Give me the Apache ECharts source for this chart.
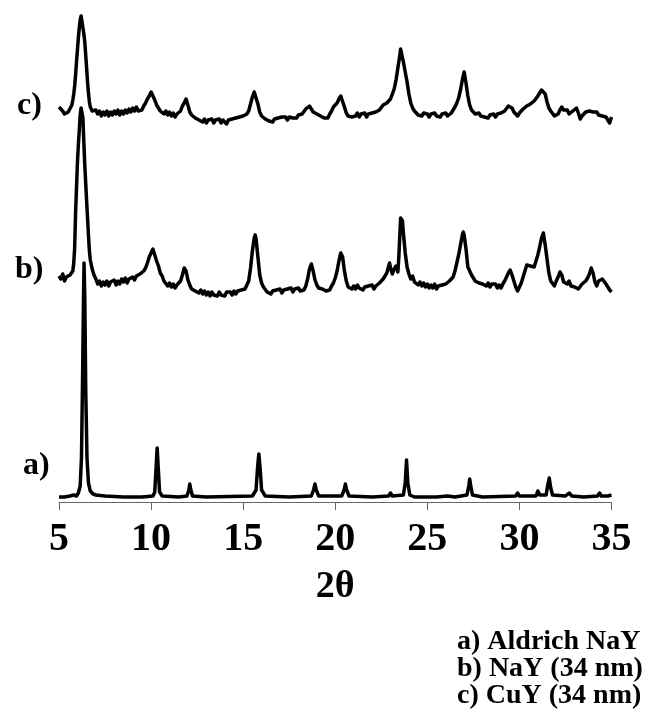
<!DOCTYPE html>
<html>
<head>
<meta charset="utf-8">
<script src="https://cdn.jsdelivr.net/npm/echarts@6/dist/echarts.min.js"></script>
<style>
  html, body { margin: 0; padding: 0; background: #fff; }
  #main { width: 659px; height: 709px; }
</style>
</head>
<body>
<div id="main"></div>
<script>
// x ticks (2theta)
var xTicks = [5, 10, 15, 20, 25, 30, 35];

// a) Aldrich NaY  [2theta, intensity]
var traceA = [
  [5.0,1],[5.3,1],[5.6,2],[5.8,3],[5.95,2],[6.05,5],[6.15,12],[6.22,40],[6.28,120],[6.33,200],
  [6.36,235],[6.40,200],[6.45,110],[6.52,40],[6.6,15],[6.7,7],[6.85,4],[7.0,3],[7.5,2],[8.5,1],
  [9.5,1],[10.1,2],[10.2,6],[10.27,30],[10.33,50],[10.39,30],[10.46,6],[10.6,2],[11.5,1],[11.95,2],
  [12.05,8],[12.1,14],[12.16,8],[12.25,2],[13,1],[15.5,2],[15.7,8],[15.78,30],[15.85,44],[15.92,30],
  [16.0,8],[16.2,2],[17.5,1],[18.7,2],[18.82,8],[18.9,14],[18.97,8],[19.1,2],[20.35,2],[20.48,8],
  [20.55,14],[20.62,8],[20.75,2],[22.0,1],[22.9,2],[23.0,5],[23.1,2],[23.7,3],[23.8,15],[23.87,38],
  [23.94,15],[24.05,3],[24.3,1],[25.5,1],[26.1,2],[26.5,1],[27.15,3],[27.25,12],[27.3,19],[27.36,12],
  [27.45,3],[28,1],[29.8,2],[29.9,5],[30.0,2],[30.9,2],[31.0,7],[31.1,3],[31.45,3],[31.55,14],
  [31.62,20],[31.7,10],[31.8,3],[32.5,2],[32.7,5],[32.85,2],[33.5,1],[34.25,2],[34.35,5],[34.45,2],
  [34.8,2],[35.0,3]
];

// b) NaY (34 nm)
var traceB = [
  [5.0,17],[5.1,14],[5.2,19],[5.3,12],[5.4,16],[5.5,15],[5.6,18],[5.7,17],[5.75,22],[5.8,30],
  [5.85,45],[5.9,80],[5.95,105],[6.0,130],[6.05,148],[6.1,162],[6.15,178],[6.2,185],[6.25,186],[6.3,175],
  [6.35,150],[6.4,128],[6.45,110],[6.5,92],[6.55,75],[6.6,58],[6.65,42],[6.7,33],[6.8,24],[6.9,18],
  [7.0,14],[7.1,9],[7.2,12],[7.3,7],[7.4,11],[7.5,8],[7.6,12],[7.7,7],[7.8,11],[7.9,9],
  [8.0,13],[8.1,8],[8.2,12],[8.3,9],[8.4,14],[8.5,11],[8.6,15],[8.7,10],[8.8,14],[8.9,12],
  [9.0,16],[9.1,13],[9.2,17],[9.3,15],[9.4,19],[9.5,18],[9.6,22],[9.7,25],[9.8,30],[9.9,36],
  [10.0,40],[10.1,44],[10.2,38],[10.3,32],[10.4,27],[10.5,20],[10.6,17],[10.7,12],[10.8,10],[10.9,7],
  [11.0,10],[11.1,6],[11.2,9],[11.3,5],[11.4,8],[11.5,6],[11.6,12],[11.7,18],[11.8,25],[11.9,22],
  [12.0,13],[12.1,8],[12.2,4],[12.3,6],[12.4,2],[12.5,4],[12.6,0],[12.7,3],[12.8,-1],[12.9,2],
  [13.0,-2],[13.1,1],[13.2,-3],[13.3,1],[13.4,-2],[13.5,0],[13.6,-3],[13.7,1],[13.8,-2],[13.9,0],
  [14.0,-3],[14.1,1],[14.2,-1],[14.3,1],[14.4,-2],[14.5,2],[14.6,-1],[14.7,2],[14.8,0],[14.9,3],
  [15.0,1],[15.1,4],[15.2,6],[15.3,12],[15.4,25],[15.5,42],[15.6,55],[15.65,58],[15.7,54],[15.8,36],
  [15.9,18],[16.0,10],[16.1,6],[16.2,4],[16.3,1],[16.4,3],[16.5,-1],[16.6,2],[16.7,0],[16.8,3],
  [16.9,1],[17.0,4],[17.1,0],[17.2,3],[17.3,1],[17.4,4],[17.5,2],[17.6,5],[17.7,1],[17.8,4],
  [17.9,2],[18.0,5],[18.1,2],[18.2,4],[18.3,3],[18.4,7],[18.5,14],[18.6,24],[18.7,29],[18.8,22],
  [18.9,13],[19.0,8],[19.1,5],[19.2,7],[19.3,4],[19.4,6],[19.5,2],[19.6,4],[19.7,3],[19.8,7],
  [19.9,10],[20.0,15],[20.1,22],[20.2,32],[20.3,40],[20.4,36],[20.5,22],[20.6,12],[20.7,6],[20.8,8],
  [20.9,4],[21.0,7],[21.1,4],[21.2,8],[21.3,5],[21.4,7],[21.5,3],[21.6,6],[21.7,4],[21.8,7],
  [21.9,5],[22.0,8],[22.1,4],[22.2,7],[22.3,6],[22.4,10],[22.5,9],[22.6,14],[22.7,17],[22.8,20],
  [22.9,27],[22.95,30],[23.0,25],[23.1,19],[23.2,24],[23.3,27],[23.4,21],[23.45,35],[23.5,55],[23.55,75],
  [23.6,77],[23.65,72],[23.7,60],[23.8,40],[23.9,26],[24.0,19],[24.1,14],[24.2,17],[24.3,11],[24.4,13],
  [24.5,8],[24.6,11],[24.7,7],[24.8,10],[24.9,6],[25.0,9],[25.1,5],[25.2,8],[25.3,5],[25.4,9],
  [25.5,4],[25.6,7],[25.7,5],[25.8,8],[25.9,6],[26.0,9],[26.1,8],[26.2,12],[26.3,11],[26.4,16],
  [26.5,22],[26.6,30],[26.7,38],[26.8,48],[26.9,58],[26.95,61],[27.0,58],[27.1,44],[27.2,26],[27.3,22],
  [27.4,18],[27.5,15],[27.6,12],[27.7,14],[27.8,10],[27.9,12],[28.0,9],[28.1,11],[28.2,7],[28.3,10],
  [28.4,6],[28.5,9],[28.6,7],[28.7,9],[28.8,5],[28.9,8],[29.0,5],[29.1,9],[29.2,12],[29.3,16],
  [29.4,20],[29.5,23],[29.6,18],[29.7,12],[29.8,6],[29.9,2],[30.0,6],[30.1,10],[30.2,16],[30.3,22],
  [30.4,28],[30.5,30],[30.6,27],[30.7,29],[30.8,26],[30.9,32],[31.0,38],[31.1,46],[31.2,55],[31.3,60],
  [31.35,58],[31.4,48],[31.5,34],[31.6,20],[31.7,12],[31.8,10],[31.9,7],[32.0,12],[32.1,16],[32.2,21],
  [32.3,18],[32.4,11],[32.5,13],[32.6,9],[32.7,12],[32.8,7],[32.9,9],[33.0,6],[33.1,8],[33.2,4],
  [33.3,5],[33.4,9],[33.5,8],[33.6,12],[33.7,15],[33.8,19],[33.9,25],[34.0,20],[34.1,11],[34.2,7],
  [34.3,12],[34.4,10],[34.5,14],[34.6,12],[34.7,9],[34.8,6],[34.9,3],[35.0,1]
];

// c) CuY (34 nm)
var traceC = [
  [5.0,13],[5.1,11],[5.2,9],[5.3,6],[5.4,4],[5.5,8],[5.6,10],[5.7,15],[5.75,20],[5.8,26],
  [5.85,34],[5.9,45],[5.95,58],[6.0,70],[6.05,82],[6.1,92],[6.15,100],[6.2,104],[6.25,98],[6.3,92],
  [6.35,86],[6.4,78],[6.45,65],[6.5,52],[6.55,38],[6.6,27],[6.65,18],[6.7,13],[6.8,9],[6.9,7],
  [7.0,10],[7.1,6],[7.2,9],[7.3,4],[7.4,8],[7.5,5],[7.6,9],[7.7,4],[7.8,8],[7.9,5],
  [8.0,9],[8.1,6],[8.2,10],[8.3,5],[8.4,9],[8.5,6],[8.6,10],[8.7,7],[8.8,11],[8.9,8],
  [9.0,12],[9.1,9],[9.2,13],[9.3,9],[9.4,11],[9.5,10],[9.6,14],[9.7,17],[9.8,21],[9.9,24],
  [10.0,28],[10.1,26],[10.2,20],[10.3,15],[10.4,12],[10.5,9],[10.6,11],[10.7,6],[10.8,9],[10.9,5],
  [11.0,8],[11.1,4],[11.2,7],[11.3,3],[11.4,6],[11.5,4],[11.6,9],[11.7,14],[11.8,17],[11.9,21],
  [12.0,15],[12.1,8],[12.2,5],[12.3,6],[12.4,2],[12.5,4],[12.6,0],[12.7,2],[12.8,-2],[12.9,1],
  [13.0,-3],[13.1,0],[13.2,-2],[13.3,1],[13.4,-3],[13.5,0],[13.6,-2],[13.7,1],[13.8,-3],[13.9,0],
  [14.0,-2],[14.1,-4],[14.2,0],[14.3,-2],[14.4,1],[14.5,-1],[14.6,2],[14.7,0],[14.8,3],[14.9,1],
  [15.0,4],[15.1,3],[15.2,6],[15.3,9],[15.4,16],[15.5,23],[15.6,28],[15.65,29],[15.7,26],[15.8,16],
  [15.9,8],[16.0,4],[16.1,3],[16.2,1],[16.3,2],[16.4,-1],[16.5,1],[16.6,-2],[16.7,1],[16.8,-1],
  [16.9,2],[17.0,0],[17.1,3],[17.2,1],[17.3,3],[17.4,0],[17.5,3],[17.6,1],[17.7,2],[17.8,4],
  [17.9,2],[18.0,5],[18.1,3],[18.2,6],[18.3,8],[18.4,11],[18.5,10],[18.6,14],[18.7,11],[18.8,8],
  [18.9,9],[19.0,6],[19.1,7],[19.2,4],[19.3,5],[19.4,2],[19.5,4],[19.6,2],[19.7,6],[19.8,9],
  [19.9,13],[20.0,15],[20.1,17],[20.2,21],[20.3,24],[20.35,25],[20.4,22],[20.5,13],[20.6,7],[20.7,4],
  [20.8,5],[20.9,3],[21.0,5],[21.1,4],[21.2,7],[21.3,3],[21.4,6],[21.5,4],[21.6,7],[21.7,3],
  [21.8,6],[21.9,4],[22.0,7],[22.1,5],[22.2,8],[22.3,7],[22.4,10],[22.5,12],[22.6,15],[22.7,14],
  [22.8,17],[22.9,19],[23.0,21],[23.1,26],[23.2,31],[23.3,40],[23.4,52],[23.5,64],[23.55,71],[23.6,70],
  [23.7,58],[23.8,48],[23.9,38],[24.0,26],[24.1,17],[24.2,12],[24.3,9],[24.4,7],[24.5,5],[24.6,7],
  [24.7,4],[24.8,7],[24.9,5],[25.0,6],[25.1,3],[25.2,6],[25.3,4],[25.4,7],[25.5,4],[25.6,6],
  [25.7,3],[25.8,6],[25.9,5],[26.0,7],[26.1,4],[26.2,6],[26.3,7],[26.4,10],[26.5,13],[26.6,17],
  [26.7,22],[26.8,30],[26.9,40],[27.0,48],[27.05,46],[27.1,37],[27.2,24],[27.3,15],[27.4,10],[27.5,8],
  [27.6,6],[27.7,5],[27.8,7],[27.9,4],[28.0,6],[28.1,3],[28.2,5],[28.3,2],[28.4,5],[28.5,4],
  [28.6,6],[28.7,3],[28.8,6],[28.9,5],[29.0,7],[29.1,6],[29.2,9],[29.3,11],[29.4,14],[29.5,15],
  [29.6,12],[29.7,8],[29.8,6],[29.9,4],[30.0,7],[30.1,9],[30.2,11],[30.3,12],[30.4,14],[30.5,13],
  [30.6,16],[30.7,18],[30.8,19],[30.9,21],[31.0,24],[31.1,27],[31.2,30],[31.3,31],[31.4,26],[31.5,18],
  [31.6,12],[31.7,9],[31.8,7],[31.9,4],[32.0,3],[32.1,6],[32.2,10],[32.3,13],[32.4,10],[32.5,8],
  [32.6,10],[32.7,6],[32.8,7],[32.9,9],[33.0,10],[33.1,12],[33.2,7],[33.3,1],[33.4,4],[33.5,6],
  [33.6,8],[33.7,10],[33.8,9],[33.9,7],[34.0,8],[34.1,6],[34.2,8],[34.3,5],[34.4,6],[34.5,4],
  [34.6,5],[34.7,3],[34.8,2],[34.9,-3],[35.0,3]
];

var traceLabels = ['a)', 'b)', 'c)'];
var legendLines = ['a) Aldrich NaY', 'b) NaY (34 nm)', 'c) CuY (34 nm)'];

// vertical stacking of the traces
var offsets = [4, 209, 382];

function shift(arr, off) {
  return arr.map(function (p) { return [p[0], p[1] + off]; });
}

var FONT = '"Liberation Serif", "Times New Roman", serif';
var myChart = echarts.init(document.getElementById('main'));

var lineStyle = { color: '#000', width: 3.5, join: 'round' };
var series = [traceA, traceB, traceC].map(function (d, i) {
  return {
    type: 'line',
    data: shift(d, offsets[i]),
    showSymbol: false,
    smooth: false,
    lineStyle: lineStyle,
    silent: true,
    animation: false
  };
});

// label anchors (left, vertical centre)
var labelPos = [[23, 468], [15, 272], [17, 108]];
var graphics = traceLabels.map(function (t, i) {
  return {
    type: 'text',
    left: labelPos[i][0],
    top: labelPos[i][1] - 18,
    style: { text: t, font: 'bold 32px ' + FONT, fill: '#000' }
  };
});
legendLines.forEach(function (t, i) {
  graphics.push({
    type: 'text',
    left: 457,
    top: 628 + i * 27,
    style: { text: t, font: 'bold 28px ' + FONT, fill: '#000' }
  });
});

option = {
  backgroundColor: '#fff',
  animation: false,
  grid: { left: 59, right: 47.5, top: 0, bottom: 207, containLabel: false },
  xAxis: {
    type: 'value',
    min: xTicks[0],
    max: xTicks[xTicks.length - 1],
    interval: 5,
    name: '2θ',
    nameLocation: 'middle',
    nameGap: 66,
    nameTextStyle: { fontFamily: FONT, fontWeight: 'bold', fontSize: 38, color: '#000' },
    axisLine: { show: true, lineStyle: { color: '#666', width: 1 } },
    axisTick: { show: true, inside: false, length: 8, lineStyle: { color: '#666', width: 1 } },
    axisLabel: { fontFamily: FONT, fontWeight: 'bold', fontSize: 40, color: '#000', margin: 18 },
    splitLine: { show: false }
  },
  yAxis: {
    type: 'value',
    min: 0,
    max: 502,
    show: false
  },
  graphic: graphics,
  series: series
};
myChart.setOption(option);
</script>
</body>
</html>
